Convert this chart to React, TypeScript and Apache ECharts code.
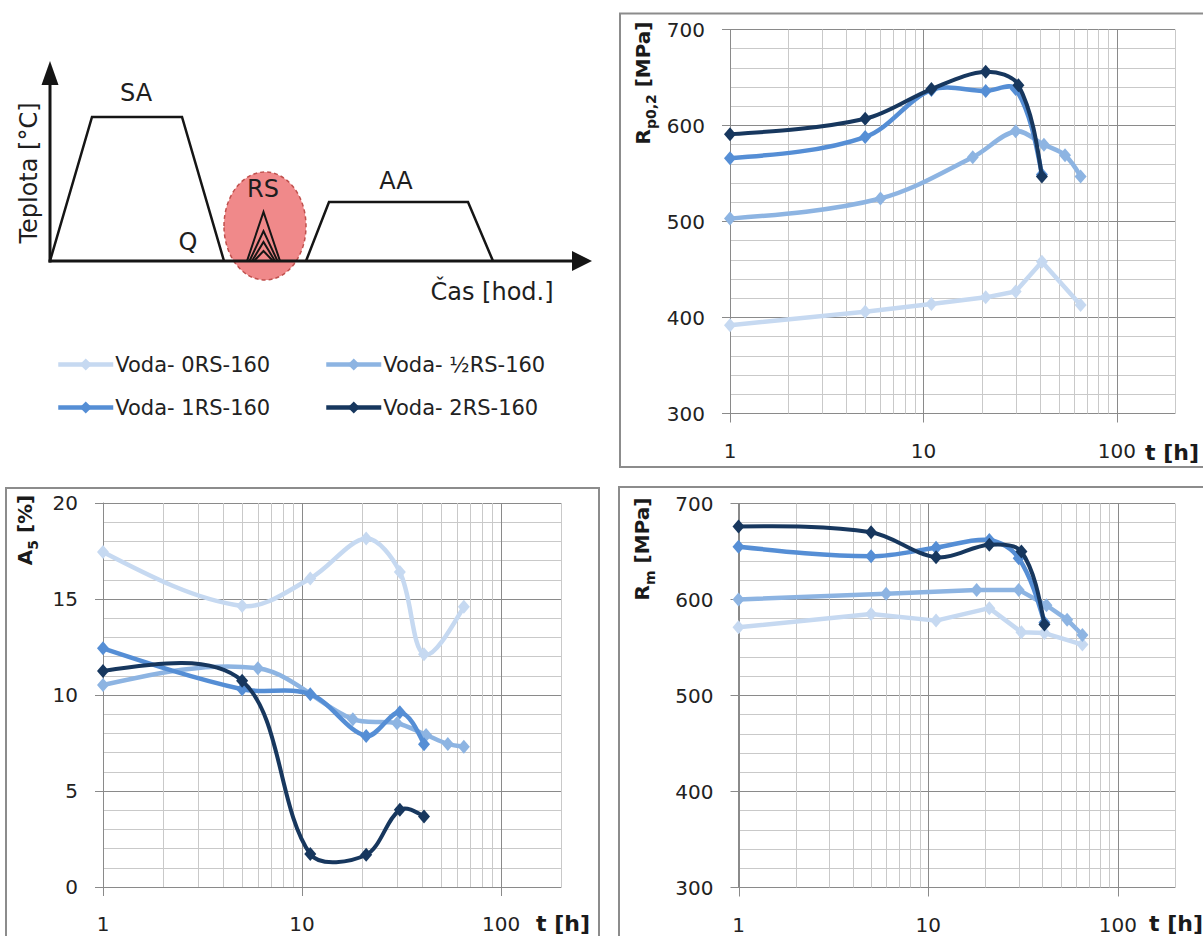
import React, { useEffect, useRef } from 'react';
import * as echarts from 'echarts';

const FONT = '"DejaVu Sans", sans-serif';

// ---- series names & colours ----
const SERIES_NAMES = ['Voda- 0RS-160', 'Voda- ½RS-160', 'Voda- 1RS-160', 'Voda- 2RS-160'];
const COLORS = ['#c6d9f1', '#8db4e2', '#558ed5', '#17375e'];

// ---- Rp0,2 [MPa] ----
const rp0RS_t = [1, 5, 11, 21, 30, 41, 65];
const rp0RS_v = [392, 406, 414, 421, 427, 458, 413];
const rpHalfRS_t = [1, 6, 18, 30, 42, 54, 65];
const rpHalfRS_v = [503, 524, 567, 594, 580, 569, 547];
const rp1RS_t = [1, 5, 11, 21, 30, 41];
const rp1RS_v = [566, 588, 637, 636, 638, 549];
const rp2RS_t = [1, 5, 11, 21, 31, 41];
const rp2RS_v = [591, 607, 638, 656, 642, 547];

// ---- A5 [%] ----
const a0RS_t = [1, 5, 11, 21, 31, 41, 65];
const a0RS_v = [17.45, 14.64, 16.07, 18.15, 16.41, 12.12, 14.59];
const aHalfRS_t = [1, 6, 18, 30, 42, 54, 65];
const aHalfRS_v = [10.52, 11.39, 8.74, 8.53, 7.92, 7.45, 7.31];
const a1RS_t = [1, 5, 11, 21, 31, 41];
const a1RS_v = [12.43, 10.3, 10.04, 7.87, 9.1, 7.44];
const a2RS_t = [1, 5, 11, 21, 31, 41];
const a2RS_v = [11.25, 10.74, 1.72, 1.68, 4.02, 3.67];

// ---- Rm [MPa] ----
const rm0RS_t = [1, 5, 11, 21, 31, 41, 65];
const rm0RS_v = [571, 585, 578, 591, 566, 565, 553];
const rmHalfRS_t = [1, 6, 18, 30, 42, 54, 65];
const rmHalfRS_v = [600, 606, 610, 610, 594, 579, 563];
const rm1RS_t = [1, 5, 11, 21, 30, 41];
const rm1RS_v = [655, 645, 654, 662, 643, 576];
const rm2RS_t = [1, 5, 11, 21, 31, 41];
const rm2RS_v = [676, 670, 644, 657, 650, 574];

// ---- axes ----
const X_MIN = 1;
const X_MAX = 200;
const X_LABELS = [1, 10, 100];
const X_MAJOR = [1, 10, 100];
const X_GRID = [1, 2, 3, 4, 5, 6, 7, 8, 9, 10, 20, 30, 40, 50, 60, 70, 80, 90, 100, 200];
const Y_RANGES = [
  { min: 300, max: 700, interval: 100 },
  { min: 0, max: 20, interval: 5 },
  { min: 300, max: 700, interval: 100 },
];

const MAJOR_C = '#8a8a8a';
const MINOR_C = '#c9c9c9';
const TEXT_C = '#222222';

// Excel-like smoothed line (cardinal spline in pixel space)
function smoothPath(pts: number[][], smooth: boolean): string {
  const n = pts.length;
  const f = (p: number[]) => `${p[0].toFixed(2)},${p[1].toFixed(2)}`;
  let d = `M${f(pts[0])}`;
  if (!smooth || n < 3) {
    for (let i = 1; i < n; i++) d += ` L${f(pts[i])}`;
    return d;
  }
  const K = 1 / 3;
  const cin: number[][] = new Array(n);
  const cout: number[][] = new Array(n);
  for (let i = 1; i < n - 1; i++) {
    const p0 = pts[i - 1];
    const p1 = pts[i];
    const p2 = pts[i + 1];
    const tx = p2[0] - p0[0];
    const ty = p2[1] - p0[1];
    const dPrev = Math.hypot(p1[0] - p0[0], p1[1] - p0[1]);
    const dNext = Math.hypot(p2[0] - p1[0], p2[1] - p1[1]);
    const sum = dPrev + dNext || 1;
    cin[i] = [p1[0] - (tx * K * dPrev) / sum, p1[1] - (ty * K * dPrev) / sum];
    cout[i] = [p1[0] + (tx * K * dNext) / sum, p1[1] + (ty * K * dNext) / sum];
  }
  const a = pts[0];
  cout[0] = [a[0] + (cin[1][0] - a[0]) * 0.5, a[1] + (cin[1][1] - a[1]) * 0.5];
  const b = pts[n - 1];
  cin[n - 1] = [b[0] + (cout[n - 2][0] - b[0]) * 0.5, b[1] + (cout[n - 2][1] - b[1]) * 0.5];
  for (let i = 0; i < n - 1; i++) {
    d += ` C${f(cout[i])} ${f(cin[i + 1])} ${f(pts[i + 1])}`;
  }
  return d;
}

function buildOption() {
  const grids = [
    { left: 730, top: 29.5, width: 445, height: 384 },
    { left: 103, top: 503, width: 458, height: 384 },
    { left: 738.5, top: 503.5, width: 436.5, height: 384 },
  ].map((g) => ({ ...g, outerBoundsMode: 'none', containLabel: false }));

  const xAxes = grids.map((_, i) => ({
    type: 'log',
    logBase: 10,
    gridIndex: i,
    min: X_MIN,
    max: X_MAX,
    axisLine: { show: true, onZero: false, lineStyle: { color: MAJOR_C, width: 1 } },
    axisTick: { show: false },
    splitLine: { show: false },
    minorTick: { show: false },
    minorSplitLine: { show: false },
    axisLabel: {
      margin: 27,
      fontSize: 20,
      fontFamily: FONT,
      color: TEXT_C,
      showMaxLabel: false,
      formatter: (v: number) => {
        const r = Math.round(v);
        return X_LABELS.includes(r) && Math.abs(v - r) < 1e-6 ? String(r) : '';
      },
    },
  }));

  const yAxes = Y_RANGES.map((r, i) => ({
    type: 'value',
    gridIndex: i,
    min: r.min,
    max: r.max,
    interval: r.interval,
    axisLine: { show: true, lineStyle: { color: MAJOR_C, width: 1 } },
    axisTick: { show: true, length: 8, lineStyle: { color: MAJOR_C } },
    axisLabel: { margin: 25, fontSize: 20, fontFamily: FONT, color: TEXT_C },
    splitLine: { show: true, lineStyle: { color: MAJOR_C, width: 1 } },
    minorTick: { show: false, splitNumber: 5 },
    minorSplitLine: { show: true, lineStyle: { color: MINOR_C, width: 1 } },
  }));

  const gridLineSeries = (gi: number) => {
    const yr = Y_RANGES[gi];
    return {
      type: 'custom',
      xAxisIndex: gi,
      yAxisIndex: gi,
      silent: true,
      z: 1,
      data: X_GRID.map((x) => [x, yr.min]),
      encode: { x: 0, y: 1 },
      renderItem: (_p: any, api: any) => {
        const x = api.value(0);
        const top = api.coord([x, yr.max]);
        const bot = api.coord([x, yr.min]);
        const px = Math.round(top[0]) + 0.5;
        const major = X_MAJOR.includes(x);
        const children: any[] = [
          {
            type: 'line',
            shape: { x1: px, y1: top[1], x2: px, y2: bot[1] },
            style: { stroke: major ? MAJOR_C : MINOR_C, lineWidth: 1 },
          },
        ];
        if (major) {
          children.push({
            type: 'line',
            shape: { x1: px, y1: bot[1], x2: px, y2: bot[1] + 9 },
            style: { stroke: MAJOR_C, lineWidth: 1 },
          });
        }
        return { type: 'group', children };
      },
    };
  };

  // markers (and legend entry) for one series
  const marks = (gi: number, si: number, t: number[], v: number[]) => ({
    type: 'line',
    name: SERIES_NAMES[si],
    xAxisIndex: gi,
    yAxisIndex: gi,
    data: t.map((x, i) => [x, v[i]]),
    symbol: 'diamond',
    symbolSize: [12, 14],
    showSymbol: true,
    lineStyle: { color: COLORS[si], width: 4.5, opacity: 0 },
    itemStyle: { color: COLORS[si] },
    z: 4 + 2 * si,
    silent: true,
  });

  // the (smoothed) connecting line, drawn through the axes' scales
  const curve = (gi: number, si: number, t: number[], v: number[], smooth: boolean, width = 4.5) => ({
    type: 'custom',
    xAxisIndex: gi,
    yAxisIndex: gi,
    silent: true,
    z: 3 + 2 * si,
    data: t.map((x, i) => [x, v[i]]),
    encode: { x: 0, y: 1 },
    renderItem: (params: any, api: any) => {
      if (params.dataIndex !== 0) return { type: 'group', children: [] };
      const pts = t.map((x, i) => api.coord([x, v[i]]));
      return {
        type: 'path',
        shape: { pathData: smoothPath(pts, smooth) },
        style: { stroke: COLORS[si], lineWidth: width, fill: 'none', lineCap: 'round', lineJoin: 'round' },
      };
    },
  });

  const both = (gi: number, si: number, t: number[], v: number[], smooth: boolean, width = 4.5) => [
    curve(gi, si, t, v, smooth, width),
    marks(gi, si, t, v),
  ];

  const series: any[] = [
    gridLineSeries(0),
    gridLineSeries(1),
    gridLineSeries(2),
    ...both(0, 0, rp0RS_t, rp0RS_v, false),
    ...both(0, 1, rpHalfRS_t, rpHalfRS_v, true),
    ...both(0, 2, rp1RS_t, rp1RS_v, true),
    ...both(0, 3, rp2RS_t, rp2RS_v, true, 4),
    ...both(1, 0, a0RS_t, a0RS_v, true),
    ...both(1, 1, aHalfRS_t, aHalfRS_v, true),
    ...both(1, 2, a1RS_t, a1RS_v, true),
    ...both(1, 3, a2RS_t, a2RS_v, true, 4),
    ...both(2, 0, rm0RS_t, rm0RS_v, false),
    ...both(2, 1, rmHalfRS_t, rmHalfRS_v, false),
    ...both(2, 2, rm1RS_t, rm1RS_v, true),
    ...both(2, 3, rm2RS_t, rm2RS_v, true, 4),
  ];

  const legendPos = [
    { left: 56, top: 354 },
    { left: 324, top: 354 },
    { left: 56, top: 397 },
    { left: 324, top: 397 },
  ];
  const legend = SERIES_NAMES.map((n, i) => ({
    data: [n],
    ...legendPos[i],
    orient: 'horizontal',
    padding: 0,
    itemGap: 0,
    itemWidth: 55,
    itemHeight: 15,
    selectedMode: false,
    lineStyle: { width: 4.5, opacity: 1 },
    textStyle: { fontSize: 21, fontFamily: FONT, color: TEXT_C, padding: [0, 0, 0, -3] },
  }));

  const titleRich = {
    b: { fontSize: 20, fontWeight: 'bold', fontFamily: FONT, fill: '#1a1a1a', lineHeight: 30, verticalAlign: 'middle' },
    s: { fontSize: 14, fontWeight: 'bold', fontFamily: FONT, fill: '#1a1a1a', lineHeight: 15, verticalAlign: 'bottom' },
  };
  const vTitle = (x: number, y: number, text: string) => ({
    type: 'text',
    x,
    y,
    rotation: Math.PI / 2,
    silent: true,
    style: { text, rich: titleRich, align: 'center', verticalAlign: 'middle', fill: '#1a1a1a', font: `bold 20px ${FONT}` },
  });
  const tLabel = (x: number, y: number) => ({
    type: 'text',
    x,
    y,
    silent: true,
    style: { text: 't [h]', fontSize: 22, fontWeight: 'bold', fontFamily: FONT, fill: '#1a1a1a', align: 'center', verticalAlign: 'middle' },
  });
  const border = (x: number, y: number, w: number, h: number) => ({
    type: 'rect',
    silent: true,
    shape: { x, y, width: w, height: h },
    style: { fill: 'none', stroke: '#8c8c8c', lineWidth: 2 },
  });
  const sText = (x: number, y: number, text: string, rot = 0) => ({
    type: 'text',
    x,
    y,
    rotation: rot,
    silent: true,
    style: { text, fontSize: 24, fontFamily: FONT, fill: '#1e1e1e', align: 'center', verticalAlign: 'middle' },
  });
  const pl = (points: number[][], lw = 2.5) => ({
    type: 'polyline',
    silent: true,
    shape: { points },
    style: { stroke: '#151515', lineWidth: lw, fill: 'none', lineJoin: 'miter' },
  });
  const pg = (points: number[][]) => ({
    type: 'polygon',
    silent: true,
    shape: { points },
    style: { fill: '#151515', stroke: 'none' },
  });

  const graphic = [
    border(620, 13.5, 620, 453.5),
    border(6, 488, 593, 480),
    border(619, 487, 620, 480),
    vTitle(643, 83, '{b|R}{s|p0,2}{b| [MPa]}'),
    vTitle(25, 530, '{b|A}{s|5}{b| [%]}'),
    vTitle(642, 549, '{b|R}{s|m}{b| [MPa]}'),
    tLabel(1172, 452),
    tLabel(563, 923),
    tLabel(1176, 923),
    // schematic
    {
      type: 'ellipse',
      silent: true,
      shape: { cx: 265, cy: 226, rx: 41, ry: 54 },
      style: { fill: '#f0898a', stroke: '#c0504d', lineWidth: 1.5, lineDash: [4, 3] },
    },
    pl([[50, 261], [92, 117], [182, 117], [224, 261]]),
    pl([[306, 261], [329, 202], [468, 202], [493, 261]]),
    pl([[50, 262.5], [50, 82]], 3),
    pg([[50, 61], [41.5, 85], [58.5, 85]]),
    pl([[48.5, 261], [575, 261]], 3),
    pg([[592, 261], [572, 251], [572, 271]]),
    pl([[247, 261], [263.5, 212], [280, 261]], 2),
    pl([[249.5, 261], [263.5, 231], [277.5, 261]], 2),
    pl([[252, 261], [263.5, 242], [275, 261]], 2),
    pl([[254, 261], [263.5, 251], [273, 261]], 2),
    sText(136, 93, 'SA'),
    sText(188, 242, 'Q'),
    sText(263, 189, 'RS'),
    sText(396, 181, 'AA'),
    sText(29, 173, 'Teplota [°C]', Math.PI / 2),
    sText(492, 292, 'Čas [hod.]'),
  ];

  return {
    animation: false,
    backgroundColor: '#ffffff',
    textStyle: { fontFamily: FONT },
    grid: grids,
    xAxis: xAxes,
    yAxis: yAxes,
    legend,
    series,
    graphic,
  };
}

export default function App() {
  const ref = useRef<HTMLDivElement>(null);
  useEffect(() => {
    if (!ref.current) return;
    const chart = echarts.init(ref.current, null, { renderer: 'svg', width: 1203, height: 936 });
    chart.setOption(buildOption() as any);
    return () => chart.dispose();
  }, []);
  return (
    <div
      ref={ref}
      style={{ position: 'fixed', left: 0, top: 0, width: 1203, height: 936, background: '#ffffff' }}
    />
  );
}
